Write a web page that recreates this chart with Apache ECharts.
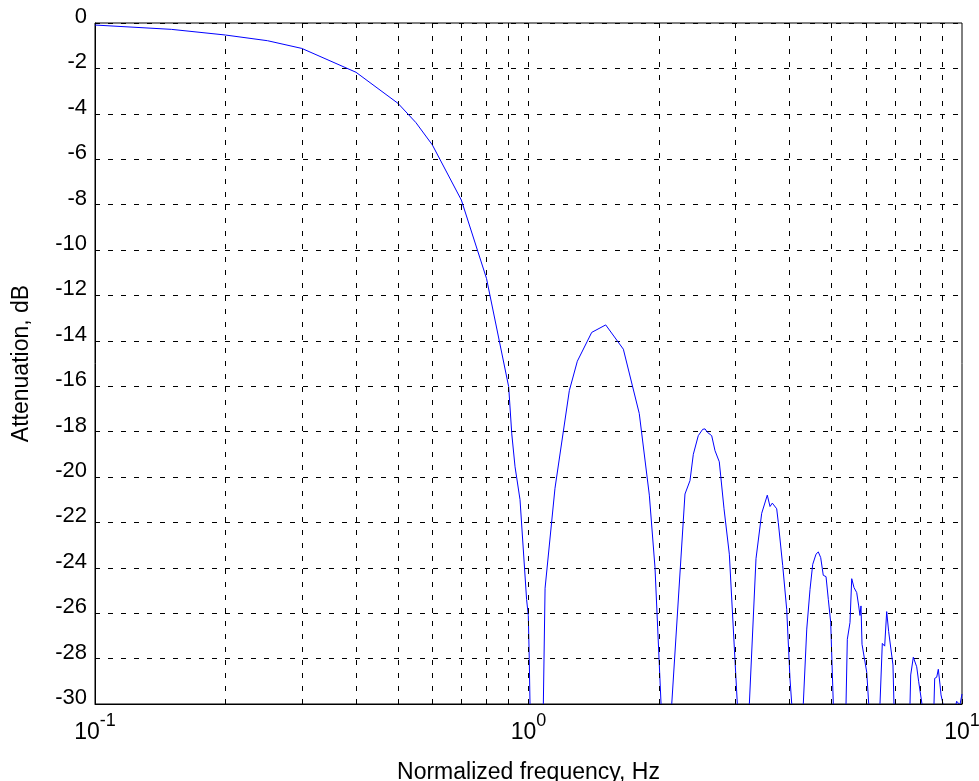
<!DOCTYPE html>
<html>
<head>
<meta charset="utf-8">
<script src="https://cdn.jsdelivr.net/npm/echarts@6/dist/echarts.min.js"></script>
<style>
  html, body { margin: 0; padding: 0; background: #fff; }
  #chart { width: 979px; height: 781px; }
</style>
</head>
<body>
<div id="chart"></div>
<script>
// normalized frequency (Hz) and attenuation (dB)
// null = the curve's notches, which fall far below the -30 dB floor
const freqHz = [
  0.1, 0.15, 0.2, 0.25, 0.3, 0.4, 0.5, 0.55, 0.6, 0.7, 0.8, 0.9, 0.915, 0.931, 0.956, 0.99, 0.999, 1.004, 1.008,
  1.045,
  1.082, 1.092, 1.151, 1.242, 1.296, 1.399, 1.507, 1.655, 1.801, 1.9, 1.958, 2.022,
  2.08,
  2.14, 2.296, 2.358, 2.4, 2.464, 2.522, 2.554, 2.586, 2.646, 2.693, 2.755, 2.825, 2.906, 3.032,
  3.13,
  3.232, 3.348, 3.451, 3.555, 3.607, 3.651, 3.737, 3.769, 3.858, 3.941, 4.011, 4.048,
  4.17,
  4.304, 4.384, 4.461, 4.525, 4.605, 4.661, 4.721, 4.786, 4.857, 4.916, 4.979, 5.048,
  5.22,
  5.401, 5.438, 5.516, 5.567, 5.635, 5.716, 5.777, 5.817, 5.848, 5.88, 6.029, 6.093,
  6.28,
  6.469, 6.549, 6.632, 6.703, 6.774, 6.846, 6.93, 6.967,
  7.27,
  7.587, 7.615, 7.721, 7.79, 7.861, 7.945, 8.0, 8.085,
  8.35,
  8.618, 8.65, 8.743, 8.818, 8.899, 8.946, 9.027, 9.04,
  9.37,
  9.69, 9.72, 9.81, 9.85,
  9.875,
  9.9, 10
];
const attenDb = [
  -0.09, -0.28, -0.53, -0.78, -1.12, -2.17, -3.54, -4.39, -5.37, -7.8, -11.25, -16.02, -18.1, -19.55, -21.0, -25.4, -26.1, -28.0, -30,
  null,
  -30, -24.9, -20.5, -16.2, -14.9, -13.63, -13.3, -14.37, -17.2, -20.8, -24.0, -30,
  null,
  -30, -20.75, -20.16, -19.0, -18.18, -17.9, -17.88, -18.03, -18.18, -18.84, -19.33, -21.4, -23.4, -30,
  null,
  -30, -23.6, -21.6, -20.8, -21.3, -21.15, -21.4, -22.0, -23.9, -25.83, -28.9, -30,
  null,
  -30, -26.7, -24.95, -23.85, -23.4, -23.3, -23.55, -24.33, -24.39, -25.39, -26.41, -30,
  null,
  -30, -27.15, -26.41, -24.48, -24.87, -25.09, -25.68, -26.1, -25.68, -27.37, -28.6, -30,
  null,
  -30, -27.33, -27.45, -25.93, -26.81, -26.89, -28.28, -30,
  null,
  -30, -28.72, -27.94, -27.94, -28.36, -29.02, -29.09, -30,
  null,
  -30, -28.87, -28.82, -28.47, -29.16, -29.6, -29.6, -30,
  null,
  -30, -29.88, -29.88, -30,
  null,
  -30, -29.56
];
// dashed vertical grid lines of the log axis
const xGridFreqs = [0.2, 0.3, 0.4, 0.5, 0.6, 0.7, 0.8, 0.9, 1, 2, 3, 4, 5, 6, 7, 8, 9];

const font = 'Liberation Sans, Arial, Helvetica, sans-serif';
const dash = [5, 8];

var myChart = echarts.init(document.getElementById('chart'), null, { renderer: 'canvas' });

let option = {
  animation: false,
  backgroundColor: '#fff',
  textStyle: { fontFamily: font },
  grid: {
    left: 95, right: 17, top: 23, bottom: 77,
    outerBoundsMode: 'none',
    containLabel: false,
    show: true, borderColor: '#000', borderWidth: 1, backgroundColor: 'transparent'
  },
  xAxis: {
    type: 'log',
    logBase: 10,
    min: 0.1,
    max: 10,
    name: 'Normalized frequency, Hz',
    nameLocation: 'middle',
    nameGap: 57,
    nameMoveOverlap: false,
    nameTextStyle: { fontSize: 23, color: '#000', fontFamily: font },
    axisLine: { onZero: false, lineStyle: { color: '#000', width: 1 } },
    axisTick: { inside: true, length: 5, lineStyle: { color: '#000' } },
    splitLine: { show: false },
    axisLabel: {
      margin: 8,
      showMinLabel: true,
      showMaxLabel: true,
      hideOverlap: false,
      formatter: function (v) {
        return '{b|10}{e|' + Math.round(Math.log10(v)) + '}';
      },
      rich: {
        b: { fontSize: 23, lineHeight: 32, verticalAlign: 'bottom', color: '#000', fontFamily: font },
        e: { fontSize: 18, lineHeight: 18, verticalAlign: 'top', color: '#000', fontFamily: font }
      }
    }
  },
  yAxis: {
    type: 'value',
    min: -30,
    max: 0,
    interval: 2,
    name: 'Attenuation, dB',
    nameLocation: 'middle',
    nameGap: 62,
    nameMoveOverlap: false,
    nameTextStyle: { fontSize: 23, color: '#000', fontFamily: font },
    axisLine: { show: true, onZero: false, lineStyle: { color: '#000', width: 1 } },
    axisTick: { show: true, inside: true, length: 5, lineStyle: { color: '#000' } },
    splitLine: { show: true, lineStyle: { color: '#000', width: 1, type: dash } },
    axisLabel: {
      margin: 8,
      fontSize: 22,
      color: '#000',
      fontFamily: font,
      verticalAlign: 'bottom',
      lineHeight: 12
    }
  },
  series: [
    {
      type: 'line',
      data: [],
      silent: true,
      color: '#000',
      z: 1,
      markLine: {
        silent: true,
        symbol: 'none',
        label: { show: false },
        lineStyle: { color: '#000', width: 1, type: dash },
        data: xGridFreqs.map(f => ({ xAxis: f }))
      }
    },
    {
      type: 'line',
      data: freqHz.map((f, i) => [f, attenDb[i] === null ? '-' : attenDb[i]]),
      connectNulls: false,
      showSymbol: false,
      symbol: 'none',
      clip: true,
      z: 3,
      color: '#0000ff',
      lineStyle: { color: '#0000ff', width: 1 }
    }
  ]
};

myChart.setOption(option, true);
</script>
</body>
</html>
